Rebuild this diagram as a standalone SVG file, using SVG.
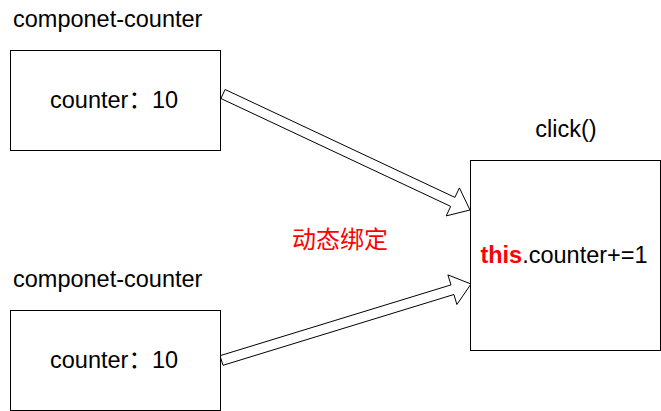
<svg xmlns="http://www.w3.org/2000/svg" width="661" height="411" viewBox="0 0 661 411">
<style>
.box{fill:#fff;stroke:#000;stroke-width:1}
.arr{fill:#fff;stroke:#000;stroke-width:1;stroke-linejoin:miter}
.t{font-family:"Liberation Sans",Arial,sans-serif;font-size:23.5px;fill:#000}
.col{font-family:"Noto Sans CJK SC",sans-serif}
.cjk{font-family:"Noto Sans CJK SC",sans-serif;font-size:24px;fill:#ff0000}
</style>
<rect width="661" height="411" fill="#fff"/>
<g id="connectors">
<polygon class="arr" points="225.1,89.5 454.9,197.4 459.4,187.9 470,210 446.2,215.9 450.7,206.4 220.9,98.5"/>
<polygon class="arr" points="220,355.7 451,284.9 447.9,274.9 471,284 456.9,304.5 453.9,294.5 223,365.3"/>
</g>
<g id="node-top">
<text class="t" x="13" y="27">componet-counter</text>
<rect class="box" x="10.5" y="50.5" width="210" height="100"/>
<text class="t" x="50" y="108">counter<tspan class="col">：</tspan>10</text>
</g>
<g id="node-bottom">
<text class="t" x="13" y="287">componet-counter</text>
<rect class="box" x="10.5" y="310.5" width="210" height="100"/>
<text class="t" x="50" y="368">counter<tspan class="col">：</tspan>10</text>
</g>
<g id="node-click">
<text class="t" x="566" y="137" text-anchor="middle">click()</text>
<rect class="box" x="470.5" y="160.5" width="190" height="190"/>
<text class="t" x="564" y="263" text-anchor="middle"><tspan font-weight="bold" fill="#ff0000">this</tspan>.counter+=1</text>
</g>
<g id="label">
<text class="cjk" x="340" y="248" text-anchor="middle">动态绑定</text>
</g>
</svg>
